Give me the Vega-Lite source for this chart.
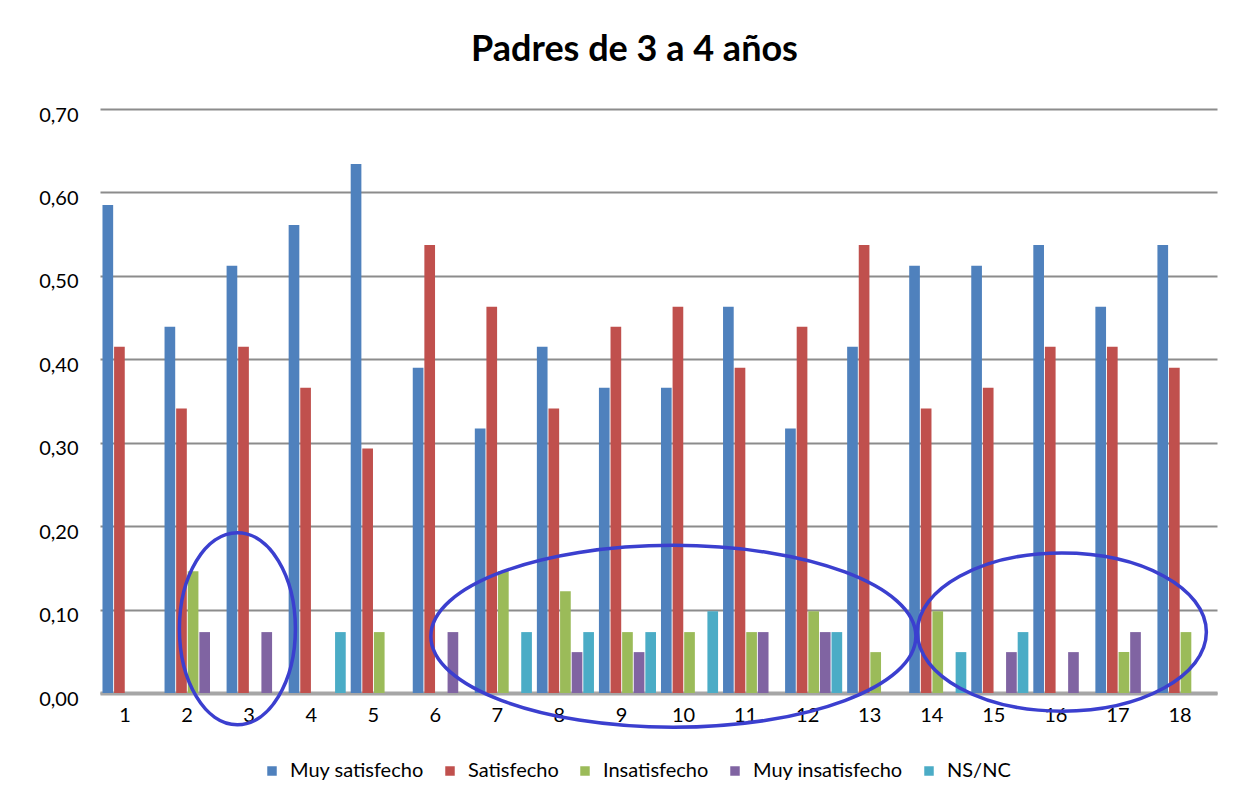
{
  "$schema": "https://vega.github.io/schema/vega-lite/v6.json",
  "width": 1117,
  "height": 584,
  "autosize": {"type": "none"},
  "padding": {"left": 100, "top": 109, "right": 31, "bottom": 108},
  "background": "white",
  "title": {
    "text": "Padres de 3 a 4 años",
    "font": "Lato",
    "fontSize": 36,
    "fontWeight": "bold",
    "color": "#000000",
    "anchor": "middle",
    "frame": "group",
    "dx": -24,
    "offset": 36
  },
  "config": {
    "view": {"stroke": null},
    "axis": {"title": null, "labelFont": "Lato", "labelFontSize": 20, "labelColor": "#000000", "ticks": false}
  },
  "datasets": {
    "barras": [
      {"grupo": 1, "serie": "Muy satisfecho", "valor": 0.585}, {"grupo": 1, "serie": "Satisfecho", "valor": 0.415}, {"grupo": 1, "serie": "Insatisfecho", "valor": 0}, {"grupo": 1, "serie": "Muy insatisfecho", "valor": 0}, {"grupo": 1, "serie": "NS/NC", "valor": 0},
      {"grupo": 2, "serie": "Muy satisfecho", "valor": 0.439}, {"grupo": 2, "serie": "Satisfecho", "valor": 0.341}, {"grupo": 2, "serie": "Insatisfecho", "valor": 0.146}, {"grupo": 2, "serie": "Muy insatisfecho", "valor": 0.073}, {"grupo": 2, "serie": "NS/NC", "valor": 0},
      {"grupo": 3, "serie": "Muy satisfecho", "valor": 0.512}, {"grupo": 3, "serie": "Satisfecho", "valor": 0.415}, {"grupo": 3, "serie": "Insatisfecho", "valor": 0}, {"grupo": 3, "serie": "Muy insatisfecho", "valor": 0.073}, {"grupo": 3, "serie": "NS/NC", "valor": 0},
      {"grupo": 4, "serie": "Muy satisfecho", "valor": 0.561}, {"grupo": 4, "serie": "Satisfecho", "valor": 0.366}, {"grupo": 4, "serie": "Insatisfecho", "valor": 0}, {"grupo": 4, "serie": "Muy insatisfecho", "valor": 0}, {"grupo": 4, "serie": "NS/NC", "valor": 0.073},
      {"grupo": 5, "serie": "Muy satisfecho", "valor": 0.634}, {"grupo": 5, "serie": "Satisfecho", "valor": 0.293}, {"grupo": 5, "serie": "Insatisfecho", "valor": 0.073}, {"grupo": 5, "serie": "Muy insatisfecho", "valor": 0}, {"grupo": 5, "serie": "NS/NC", "valor": 0},
      {"grupo": 6, "serie": "Muy satisfecho", "valor": 0.390}, {"grupo": 6, "serie": "Satisfecho", "valor": 0.537}, {"grupo": 6, "serie": "Insatisfecho", "valor": 0}, {"grupo": 6, "serie": "Muy insatisfecho", "valor": 0.073}, {"grupo": 6, "serie": "NS/NC", "valor": 0},
      {"grupo": 7, "serie": "Muy satisfecho", "valor": 0.317}, {"grupo": 7, "serie": "Satisfecho", "valor": 0.463}, {"grupo": 7, "serie": "Insatisfecho", "valor": 0.146}, {"grupo": 7, "serie": "Muy insatisfecho", "valor": 0}, {"grupo": 7, "serie": "NS/NC", "valor": 0.073},
      {"grupo": 8, "serie": "Muy satisfecho", "valor": 0.415}, {"grupo": 8, "serie": "Satisfecho", "valor": 0.341}, {"grupo": 8, "serie": "Insatisfecho", "valor": 0.122}, {"grupo": 8, "serie": "Muy insatisfecho", "valor": 0.049}, {"grupo": 8, "serie": "NS/NC", "valor": 0.073},
      {"grupo": 9, "serie": "Muy satisfecho", "valor": 0.366}, {"grupo": 9, "serie": "Satisfecho", "valor": 0.439}, {"grupo": 9, "serie": "Insatisfecho", "valor": 0.073}, {"grupo": 9, "serie": "Muy insatisfecho", "valor": 0.049}, {"grupo": 9, "serie": "NS/NC", "valor": 0.073},
      {"grupo": 10, "serie": "Muy satisfecho", "valor": 0.366}, {"grupo": 10, "serie": "Satisfecho", "valor": 0.463}, {"grupo": 10, "serie": "Insatisfecho", "valor": 0.073}, {"grupo": 10, "serie": "Muy insatisfecho", "valor": 0}, {"grupo": 10, "serie": "NS/NC", "valor": 0.098},
      {"grupo": 11, "serie": "Muy satisfecho", "valor": 0.463}, {"grupo": 11, "serie": "Satisfecho", "valor": 0.390}, {"grupo": 11, "serie": "Insatisfecho", "valor": 0.073}, {"grupo": 11, "serie": "Muy insatisfecho", "valor": 0.073}, {"grupo": 11, "serie": "NS/NC", "valor": 0},
      {"grupo": 12, "serie": "Muy satisfecho", "valor": 0.317}, {"grupo": 12, "serie": "Satisfecho", "valor": 0.439}, {"grupo": 12, "serie": "Insatisfecho", "valor": 0.098}, {"grupo": 12, "serie": "Muy insatisfecho", "valor": 0.073}, {"grupo": 12, "serie": "NS/NC", "valor": 0.073},
      {"grupo": 13, "serie": "Muy satisfecho", "valor": 0.415}, {"grupo": 13, "serie": "Satisfecho", "valor": 0.537}, {"grupo": 13, "serie": "Insatisfecho", "valor": 0.049}, {"grupo": 13, "serie": "Muy insatisfecho", "valor": 0}, {"grupo": 13, "serie": "NS/NC", "valor": 0},
      {"grupo": 14, "serie": "Muy satisfecho", "valor": 0.512}, {"grupo": 14, "serie": "Satisfecho", "valor": 0.341}, {"grupo": 14, "serie": "Insatisfecho", "valor": 0.098}, {"grupo": 14, "serie": "Muy insatisfecho", "valor": 0}, {"grupo": 14, "serie": "NS/NC", "valor": 0.049},
      {"grupo": 15, "serie": "Muy satisfecho", "valor": 0.512}, {"grupo": 15, "serie": "Satisfecho", "valor": 0.366}, {"grupo": 15, "serie": "Insatisfecho", "valor": 0}, {"grupo": 15, "serie": "Muy insatisfecho", "valor": 0.049}, {"grupo": 15, "serie": "NS/NC", "valor": 0.073},
      {"grupo": 16, "serie": "Muy satisfecho", "valor": 0.537}, {"grupo": 16, "serie": "Satisfecho", "valor": 0.415}, {"grupo": 16, "serie": "Insatisfecho", "valor": 0}, {"grupo": 16, "serie": "Muy insatisfecho", "valor": 0.049}, {"grupo": 16, "serie": "NS/NC", "valor": 0},
      {"grupo": 17, "serie": "Muy satisfecho", "valor": 0.463}, {"grupo": 17, "serie": "Satisfecho", "valor": 0.415}, {"grupo": 17, "serie": "Insatisfecho", "valor": 0.049}, {"grupo": 17, "serie": "Muy insatisfecho", "valor": 0.073}, {"grupo": 17, "serie": "NS/NC", "valor": 0},
      {"grupo": 18, "serie": "Muy satisfecho", "valor": 0.537}, {"grupo": 18, "serie": "Satisfecho", "valor": 0.390}, {"grupo": 18, "serie": "Insatisfecho", "valor": 0.073}, {"grupo": 18, "serie": "Muy insatisfecho", "valor": 0}, {"grupo": 18, "serie": "NS/NC", "valor": 0}
    ]
  },
  "layer": [
    {
      "data": {"name": "barras"},
      "mark": {"type": "bar"},
      "encoding": {
        "x": {
          "field": "grupo", "type": "ordinal",
          "scale": {"paddingInner": 0.08, "paddingOuter": 0.04},
          "axis": {"labelAngle": 0, "labelPadding": 12, "labelOffset": -6, "domain": true, "domainColor": "#a6a6a6", "domainWidth": 4, "grid": false}
        },
        "xOffset": {
          "field": "serie", "type": "nominal",
          "scale": {"domain": ["Muy satisfecho", "Satisfecho", "Insatisfecho", "Muy insatisfecho", "NS/NC"], "paddingInner": 0.08, "paddingOuter": 0}
        },
        "y": {
          "field": "valor", "type": "quantitative",
          "scale": {"domain": [0, 0.7], "nice": false},
          "axis": {
            "values": [0, 0.1, 0.2, 0.3, 0.4, 0.5, 0.6, 0.7],
            "labelExpr": "replace(format(datum.value, '.2f'), '.', ',')",
            "grid": true, "gridColor": "#8c8c8c", "gridWidth": 2,
            "domain": false, "labelPadding": 22, "labelOffset": 6
          }
        },
        "color": {
          "field": "serie", "type": "nominal",
          "scale": {
            "domain": ["Muy satisfecho", "Satisfecho", "Insatisfecho", "Muy insatisfecho", "NS/NC"],
            "range": ["#4F81BD", "#C0504D", "#9BBB59", "#8064A2", "#4BACC6"]
          },
          "legend": {
            "orient": "none", "legendX": 162, "legendY": 652, "direction": "horizontal",
            "title": null, "symbolType": "square", "symbolSize": 90, "symbolStrokeWidth": 0,
            "labelFont": "Lato", "labelFontSize": 20, "labelColor": "#000000",
            "labelOffset": 8, "columnPadding": 16
          }
        }
      }
    },
    {
      "data": {"values": [{"grupo": 3, "serie": "Muy satisfecho", "valor": 0.077}]},
      "mark": {
        "type": "point",
        "shape": "M 0.661 0 C 0.661 0.5523 0.3906 1 0.057 1 C -0.2766 1 -0.547 0.5523 -0.547 0 C -0.547 -0.5523 -0.2766 -1 0.057 -1 C 0.3906 -1 0.661 -0.5523 0.661 0 Z",
        "size": 36864, "filled": false, "stroke": "#3b3fcf", "strokeWidth": 3.5, "opacity": 1
      },
      "encoding": {
        "x": {"field": "grupo", "type": "ordinal"},
        "xOffset": {"field": "serie", "type": "nominal"},
        "y": {"field": "valor", "type": "quantitative"}
      }
    },
    {
      "data": {"values": [{"grupo": 10, "serie": "Muy satisfecho", "valor": 0.068}]},
      "mark": {
        "type": "point",
        "shape": "M 1.029 0 C 1.029 0.2071 0.5813 0.375 0.029 0.375 C -0.5233 0.375 -0.971 0.2071 -0.971 0 C -0.971 -0.2071 -0.5233 -0.375 0.029 -0.375 C 0.5813 -0.375 1.029 -0.2071 1.029 0 Z",
        "size": 235225, "filled": false, "stroke": "#3b3fcf", "strokeWidth": 3.5, "opacity": 1
      },
      "encoding": {
        "x": {"field": "grupo", "type": "ordinal"},
        "xOffset": {"field": "serie", "type": "nominal"},
        "y": {"field": "valor", "type": "quantitative"}
      }
    },
    {
      "data": {"values": [{"grupo": 16, "serie": "Insatisfecho", "valor": 0.073}]},
      "mark": {
        "type": "point",
        "shape": "M 1 0 C 1 0.3021 0.5523 0.547 0 0.547 C -0.5523 0.547 -1 0.3021 -1 0 C -1 -0.3021 -0.5523 -0.547 0 -0.547 C 0.5523 -0.547 1 -0.3021 1 0 Z",
        "size": 83521, "filled": false, "stroke": "#3b3fcf", "strokeWidth": 3.5, "opacity": 1
      },
      "encoding": {
        "x": {"field": "grupo", "type": "ordinal"},
        "xOffset": {"field": "serie", "type": "nominal"},
        "y": {"field": "valor", "type": "quantitative"}
      }
    }
  ]
}
